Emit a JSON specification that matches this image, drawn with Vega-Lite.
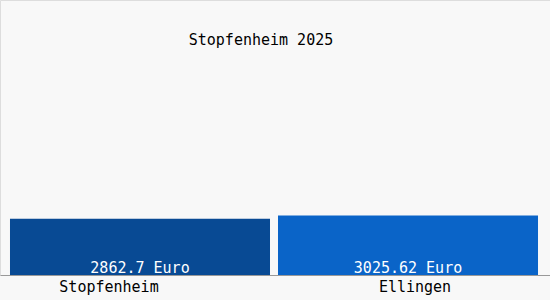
{
  "$schema": "https://vega.github.io/schema/vega-lite/v6.json",
  "width": 550,
  "height": 275,
  "padding": {"left": 0, "top": 0, "right": 0, "bottom": 25},
  "autosize": {"type": "none"},
  "background": "#f8f8f8",
  "title": {
    "text": "Stopfenheim 2025",
    "anchor": "middle",
    "orient": "top",
    "offset": 0,
    "dy": 48,
    "dx": -14,
    "font": "DejaVu Sans Mono",
    "fontSize": 15,
    "fontWeight": "normal",
    "color": "#000000"
  },
  "data": {
    "values": [
      {"ort": "Stopfenheim", "wert": 2862.7, "label": "2862.7 Euro"},
      {"ort": "Ellingen", "wert": 3025.62, "label": "3025.62 Euro"}
    ]
  },
  "encoding": {
    "x": {
      "field": "ort",
      "type": "nominal",
      "sort": null,
      "scale": {"paddingInner": 0.02985, "paddingOuter": 0.041, "align": 0.4545},
      "axis": {
        "title": null,
        "ticks": false,
        "domainColor": "#999999",
        "labelFont": "DejaVu Sans Mono",
        "labelFontSize": 15,
        "labelColor": "#000000",
        "labelAngle": 0,
        "labelBaseline": "alphabetic",
        "labelPadding": 16,
        "labelOffset": {"condition": {"test": "datum.value === 'Stopfenheim'", "value": -31}, "value": 7}
      }
    }
  },
  "layer": [
    {
      "mark": {"type": "bar"},
      "encoding": {
        "y": {"field": "wert", "type": "quantitative", "scale": {"domain": [0, 13640]}, "axis": null},
        "color": {
          "field": "ort",
          "type": "nominal",
          "scale": {"domain": ["Stopfenheim", "Ellingen"], "range": ["#084a94", "#0a64c8"]},
          "legend": null
        }
      }
    },
    {
      "mark": {"type": "text", "baseline": "alphabetic", "dy": -2, "font": "DejaVu Sans Mono", "fontSize": 15, "color": "#ffffff"},
      "encoding": {
        "text": {"field": "label"},
        "y": {"datum": 0, "type": "quantitative"}
      }
    }
  ],
  "config": {"view": {"stroke": "#dddddd"}}
}
